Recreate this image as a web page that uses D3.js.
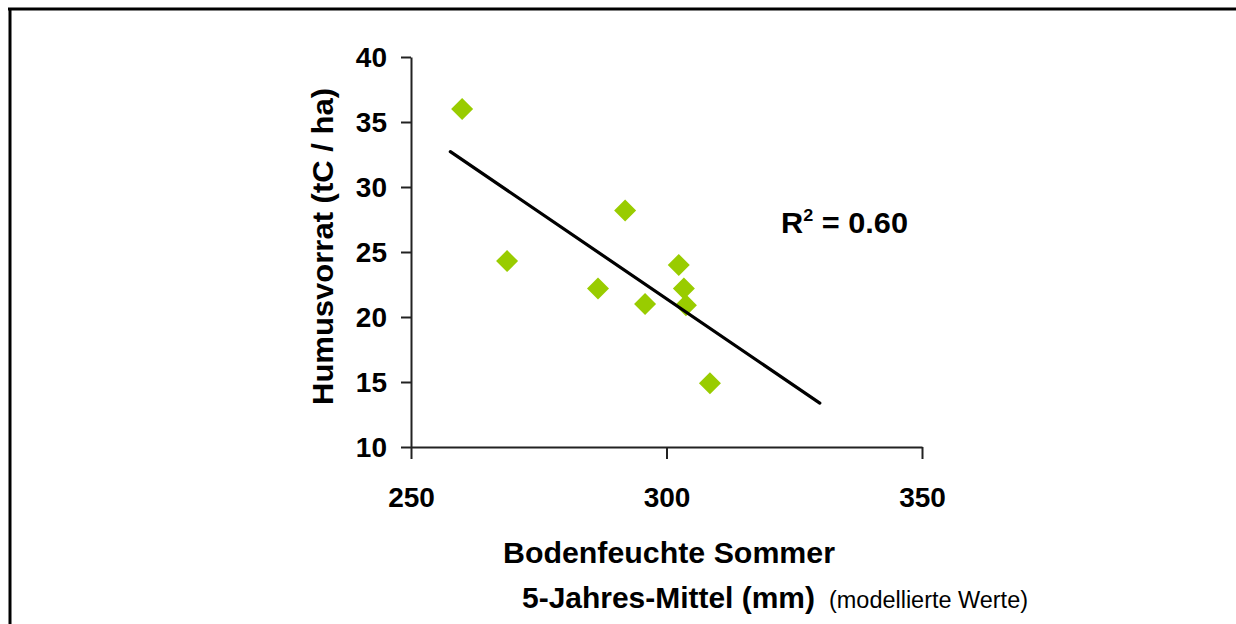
<!DOCTYPE html>
<html><head><meta charset="utf-8">
<script src="https://cdn.jsdelivr.net/npm/d3@7"></script>
<style>body{margin:0;background:#fff}svg{display:block}text{font-family:"Liberation Sans",Arial,sans-serif}</style>
</head><body>
<script>
const soilMoisture = [260.0, 268.8, 286.6, 291.9, 295.8, 302.4, 303.4, 303.8, 308.5];
const humus = [36.0, 24.3, 22.2, 28.2, 21.0, 24.0, 22.2, 20.9, 14.9];
const xTicks = [250, 300, 350];
const yTicks = [10, 15, 20, 25, 30, 35, 40];
const xDomain = [250, 350];
const yDomain = [10, 40];
const trendRange = [257.7, 330];
const yTitle = "Humusvorrat (tC / ha)";
const xTitle1 = "Bodenfeuchte Sommer";
const xTitle2 = "5-Jahres-Mittel (mm)";
const xNote = "(modellierte Werte)";

const W = 1236, H = 624;
const svg = d3.select("body").append("svg").attr("width", W).attr("height", H);

// frame (top + left only)
svg.append("line").attr("x1", 8).attr("x2", W).attr("y1", 9).attr("y2", 9).attr("stroke", "#000").attr("stroke-width", 3);
svg.append("line").attr("x1", 10).attr("x2", 10).attr("y1", 8).attr("y2", H).attr("stroke", "#000").attr("stroke-width", 3);

const x = d3.scaleLinear().domain(xDomain).range([411, 922]);
const y = d3.scaleLinear().domain(yDomain).range([447, 57]);

const yAxis = svg.append("g").attr("transform", `translate(${x(xDomain[0])},0)`)
  .call(d3.axisLeft(y).tickValues(yTicks).tickSize(10).tickSizeOuter(0).tickPadding(14).tickFormat(d3.format("d")));
const xAxis = svg.append("g").attr("transform", `translate(0,${y(yDomain[0])})`)
  .call(d3.axisBottom(x).tickValues(xTicks).tickSize(12).tickSizeOuter(0).tickPadding(29).tickFormat(d3.format("d")));
[yAxis, xAxis].forEach(g => {
  g.select(".domain").attr("stroke", "#222").attr("stroke-width", 2);
  g.selectAll(".tick line").attr("stroke", "#222").attr("stroke-width", 2);
  g.selectAll(".tick text").attr("fill", "#000").attr("font-size", 28).attr("font-weight", "bold")
    .attr("font-family", "'Liberation Sans', Arial, sans-serif");
});
xAxis.selectAll(".tick text").attr("dy", "0.68em");
yAxis.selectAll(".tick text").attr("dy", "0.34em");

// regression
const n = soilMoisture.length;
const mx = d3.mean(soilMoisture), my = d3.mean(humus);
let sxy = 0, sxx = 0, syy = 0;
for (let i = 0; i < n; i++) { const dx = soilMoisture[i] - mx, dy = humus[i] - my; sxy += dx * dy; sxx += dx * dx; syy += dy * dy; }
const slope = sxy / sxx, icpt = my - slope * mx;
const r2 = (sxy * sxy) / (sxx * syy);

// points
const sym = d3.symbol().type(d3.symbolSquare).size(242);
svg.append("g").selectAll("path").data(soilMoisture.map((v, i) => [v, humus[i]])).join("path")
  .attr("d", sym)
  .attr("transform", d => `translate(${x(d[0])},${y(d[1])}) rotate(45)`)
  .attr("fill", "#99cc00");

svg.append("line")
  .attr("x1", x(trendRange[0])).attr("y1", y(icpt + slope * trendRange[0]))
  .attr("x2", x(trendRange[1])).attr("y2", y(icpt + slope * trendRange[1]))
  .attr("stroke", "#000").attr("stroke-width", 3.2).attr("stroke-linecap", "round");

// R² label
const rt = svg.append("text").attr("x", 781).attr("y", 233).attr("font-size", 29).attr("font-weight", "bold")
  .attr("textLength", 127).attr("lengthAdjust", "spacingAndGlyphs");
rt.append("tspan").text("R");
rt.append("tspan").attr("font-size", 17).attr("dy", -12).text("2");
rt.append("tspan").attr("dy", 12).text(" = " + r2.toFixed(2));

// titles
svg.append("text").attr("transform", "translate(333,246.5) rotate(-90)").attr("text-anchor", "middle")
  .attr("font-size", 30).attr("font-weight", "bold")
  .attr("textLength", 317).attr("lengthAdjust", "spacingAndGlyphs").text(yTitle);
svg.append("text").attr("x", 669).attr("y", 563).attr("text-anchor", "middle")
  .attr("font-size", 29).attr("font-weight", "bold")
  .attr("textLength", 332).attr("lengthAdjust", "spacingAndGlyphs").text(xTitle1);
svg.append("text").attr("x", 522).attr("y", 608)
  .attr("font-size", 29).attr("font-weight", "bold")
  .attr("textLength", 293).attr("lengthAdjust", "spacingAndGlyphs").text(xTitle2);
svg.append("text").attr("x", 829).attr("y", 608)
  .attr("font-size", 23)
  .attr("textLength", 199).attr("lengthAdjust", "spacingAndGlyphs").text(xNote);
</script>
</body></html>
